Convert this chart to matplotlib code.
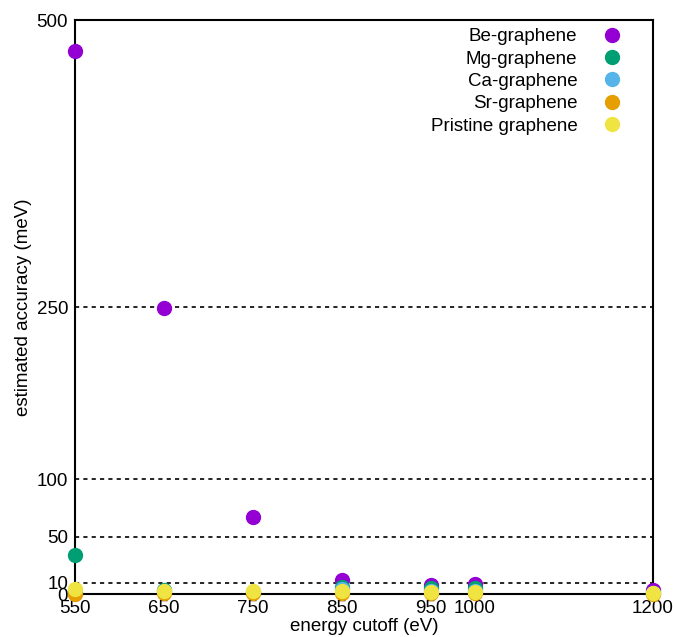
import matplotlib.pyplot as plt

# energy cutoffs (eV)
cutoffs = [550, 650, 750, 850, 950, 1000, 1200]

# estimated accuracy (meV) per system
be_graphene = [473, 249, 67, 12, 8, 9, 3.5]
mg_graphene = [34, 3.5, 1.5, 6, 5, 5, 1]
ca_graphene = [2, 2.5, 2, 4, 3, 3, 0.5]
sr_graphene = [0, 0.5, 0.5, 0.5, 0.5, 0.5, 0.2]
pristine = [4, 3, 3, 2.5, 2, 2, 0.5]

labels = ["Be-graphene", "Mg-graphene", "Ca-graphene", "Sr-graphene", "Pristine graphene"]
colors = ["#9400d3", "#009e73", "#56b4e9", "#e69f00", "#f0e442"]
series = [be_graphene, mg_graphene, ca_graphene, sr_graphene, pristine]

yticks = [0, 10, 50, 100, 250, 500]
grid_levels = [10, 50, 100, 250]

plt.rcParams['font.family'] = ['Liberation Sans', 'DejaVu Sans']
fs = 13.5

fig = plt.figure(figsize=(6.73, 6.37), dpi=100)
ax = fig.add_axes([0.1114, 0.0675, 0.8586, 0.9011])

for yv in grid_levels:
    ax.axhline(yv, color='black', lw=1.2, ls=(0, (2.5, 2.5)), zorder=1)

for vals, lab, col in zip(series, labels, colors):
    ax.plot(cutoffs, vals, 'o', ms=10, color=col, label=lab, clip_on=False, zorder=3)

ax.set_xlim(550, 1200)
ax.set_ylim(0, 500)
ax.set_xticks(cutoffs)
ax.set_yticks(yticks)
ax.tick_params(length=0, labelsize=fs)
ax.tick_params(axis='y', pad=5)
ax.tick_params(axis='x', pad=4)
for s in ax.spines.values():
    s.set_linewidth(1.5)

ax.set_xlabel("energy cutoff (eV)", fontsize=fs, labelpad=1)
ax.set_ylabel("estimated accuracy (meV)", fontsize=fs, labelpad=3)

leg = ax.legend(loc='upper right', frameon=False, fontsize=fs, markerfirst=False,
                handletextpad=1.1, labelspacing=0.28, borderaxespad=0.0,
                handlelength=1.5, bbox_to_anchor=(0.967, 0.999))
for t in leg.get_texts():
    t.set_ha('right')
leg._legend_box.align = "right"

fig.savefig("out.png", dpi=100)
